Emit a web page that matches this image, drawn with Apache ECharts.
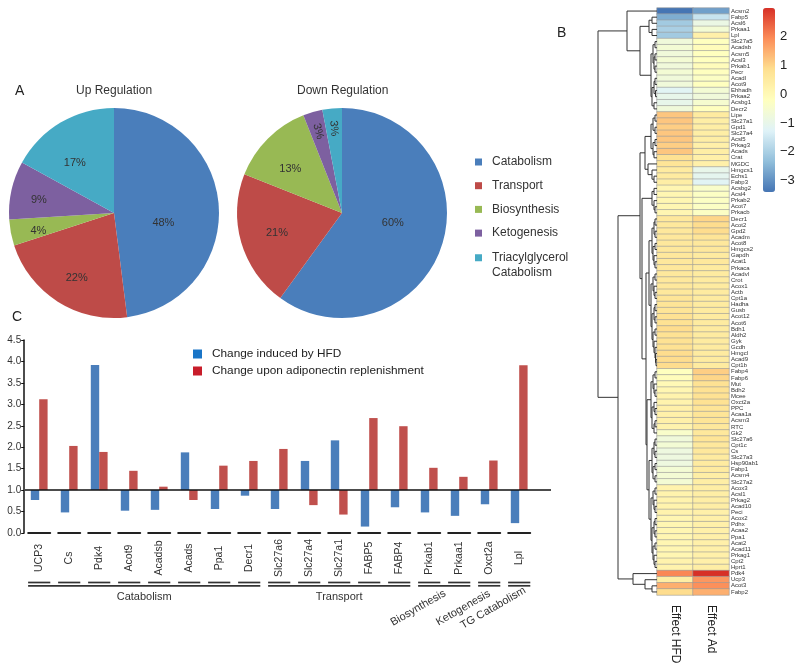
<!DOCTYPE html>
<html><head><meta charset="utf-8">
<script src="https://cdn.jsdelivr.net/npm/echarts@6/dist/echarts.min.js"></script>
<style>html,body{margin:0;padding:0;background:#fff}#c{width:800px;height:670px}</style>
</head><body><div id="c"></div>
<script>
// ---------- DATA ----------
const pieCategories = ['Catabolism','Transport','Biosynthesis','Ketogenesis','Triacylglycerol\nCatabolism'];
const upRegulation = [48, 22, 4, 9, 17];
const downRegulation = [60, 21, 13, 3, 3];

const barGenes = ['UCP3','Cs','Pdk4','Acot9','Acadsb','Acads','Ppa1','Decr1','Slc27a6','Slc27a4','Slc27a1','FABP5','FABP4','Prkab1','Prkaa1','Oxct2a','Lpl'];
const changeHFD = [0.77,0.48,3.92,0.52,0.54,1.88,0.56,0.87,0.56,1.68,2.16,0.15,0.60,0.48,0.40,0.67,0.23];
const changeAd  = [3.12,2.03,1.89,1.45,1.08,0.77,1.57,1.68,1.96,0.65,0.43,2.68,2.49,1.52,1.31,1.69,3.91];
const barBaseline = 1.0;
const barAxisTicks = [0,0.5,1,1.5,2,2.5,3,3.5,4,4.5];
const groupNames = ['Catabolism','Transport','Biosynthesis','Ketogenesis','TG Catabolism'];
const groupFirst = [0, 8, 13, 15, 16];
const groupLast  = [7, 12, 14, 15, 16];

const heatColumns = ['Effect HFD','Effect Ad'];
const heatGenes = ['Acsm2','Fabp5','Acsl6','Prkaa1','Lpl','Slc27a5','Acadsb','Acsm5','Acsl3','Prkab1','Pecr','Acadl','Acot9','Ehhadh','Prkaa2','Acsbg1','Decr2',
 'Lipe','Slc27a1','Gpd1','Slc27a4','Acsl5','Prkag3','Acads','Crat','MGDC','Hmgcs1','Echs1','Fabp3','Acsbg2','Acsl4','Prkab2','Acot7','Prkacb',
 'Decr1','Acot2','Gpd2','Acadm','Acot8','Hmgcs2','Gapdh','Acat1','Prkaca','Acadvl','Crot','Acox1','Actb','Cpt1a','Hadha','Gusb','Acot12','Acot6','Bdh1','Aldh2','Gyk','Gcdh','Hmgcl','Acad9','Cpt1b',
 'Fabp4','Fabp6','Mut','Bdh2','Mcee','Oxct2a','PPC','Acaa1a','Acsm3','RTC','Gk2','Slc27a6','Cpt1c','Cs','Slc27a3','Hsp90ab1','Fabp1','Acsm4','Slc27a2',
 'Acox3','Acsl1','Prkag2','Acad10','Peci','Acox2','Pdhx','Acaa2','Ppa1','Acat2','Acad11','Prkag1','Cpt2','Hprt1','Pdk4','Ucp3','Acot3','Fabp2'];
const effectHFD = [-3.4,-2.6,-2.1,-2.0,-2.1,-0.7,-0.6,-0.7,-0.6,-0.7,-0.6,-0.7,-0.7,-1.2,-1.0,-1.0,-0.7,
 1.2,1.2,1.1,1.2,1.2,1.1,1.2,0.8,0.7,0.5,0.5,0.4,0.1,0.1,0.1,0.1,0.1,
 0.6,0.6,0.6,0.6,0.6,0.6,0.6,0.6,0.6,0.6,0.6,0.6,0.6,0.7,0.7,0.7,0.8,0.8,0.9,0.8,0.8,0.8,0.9,0.9,0.9,
 -0.2,-0.1,0.0,0.1,0.2,0.2,0.3,0.3,0.3,0.2,-0.4,-0.7,-0.6,-0.8,-0.8,-0.8,-0.6,-0.6,-0.6,
 0.2,0.2,0.2,0.2,0.2,0.1,0.1,0.1,0.1,0.1,0.1,0.1,0.2,0.2,2.0,0.4,1.5,0.9];
const effectAd = [-2.8,-1.6,-0.9,-0.6,0.3,-0.2,-0.1,-0.2,-0.2,-0.1,-0.2,-0.3,-0.2,-0.6,-0.7,-0.5,-0.2,
 0.5,0.4,0.4,0.4,0.4,0.3,0.4,0.3,0.3,-1.0,-1.1,-1.2,-0.4,-0.3,-0.3,-0.3,-0.3,
 1.0,0.9,0.9,0.7,0.6,0.6,0.5,0.6,0.5,0.5,0.5,0.5,0.5,0.5,0.5,0.5,0.5,0.5,0.5,0.5,0.5,0.5,0.5,0.5,0.5,
 1.1,1.0,0.8,0.8,0.8,0.8,0.7,0.7,0.7,0.6,0.6,0.7,0.6,0.6,0.5,0.5,0.5,0.4,0.4,
 0.4,0.4,0.4,0.4,0.3,0.3,0.3,0.3,0.3,0.3,0.3,0.3,0.3,0.4,3.0,1.8,1.9,1.5];
const colorMin = -3.4, colorMax = 3.0;
const colorbarTicks = [-3,-2,-1,0,1,2];
// row dendrogram: [height, left, right], leaves are row indices
const dendrogram =
[59,
  [30, 0,
    [17,
      [8, [5, 1, 2], [5, 3, 4]],
      [6,
        [4, [2, 5, 6], [3, [2, 7, 8], [2, 9, 10]]],
        [5, [3, [2, 11, 12], [1.5, 13, 14]], [3, 15, 16]]
      ]
    ]
  ],
  [39,
    [17,
      [12,
        [6, [4, [2, 17, 18], [2, 19, 20]], [4, [2, 21, 22], [3, 23, 24]]],
        [9, 25, [5, 26, [3, 27, 28]]]
      ],
      [15,
        [5, [3, 29, 30], [3, 31, [2, 32, 33]]],
        [11,
          [8,
            [5, [3, [2, 34, 35], [2, 36, 37]], [4, [2, 38, 39], [3, 40, [2, 41, 42]]]],
            [6,
              [4, [2, 43, 44], [3, 45, [2, 46, 47]]],
              [5, [3, [2, 48, 49], [2, 50, 51]], [4, [2, 52, 53], [3, 54, [2, 55, [1.5, 56, [1, 57, 58]]]]]]
            ]
          ],
          [10,
            [6, [4, [2, 59, 60], [3, 61, [2, 62, 63]]], [5, [3, 64, [2, 65, 66]], [3, [2, 67, 68], 69]]],
            [8,
              [5, [3, [2, 70, 71], [2, 72, 73]], [4, [2, 74, 75], [2, 76, 77]]],
              [6, [4, [2, 78, 79], [3, 80, [2, 81, 82]]], [5, [3, [2, 83, 84], [2, 85, 86]], [4, [2, 87, 88], [3, 89, [2, 90, 91]]]]]
            ]
          ]
        ]
      ]
    ],
    [24, 92, [12, 93, [5, 94, 95]]]
  ]
];

// ---------- STYLE ----------
const F = 'Liberation Sans, Arial, Helvetica, sans-serif';
const pieColors = ['#4a7ebb','#be4b48','#98b954','#7d60a0','#46aac5'];
const heatPalette = ['#4575B4','#91BFDB','#E0F3F8','#FFFFBF','#FEE090','#FC8D59','#D73027'];

// ---------- BUILD ----------
function shifted(pad) { // nudge a pie label using rich-text padding
  return { formatter: '{p|{c}%}', rich: { p: { padding: pad, fontSize: 11, color: '#333', fontFamily: F } } };
}
function pieData(vals, labelOpts) {
  return vals.map((v, i) => ({
    name: pieCategories[i], value: v,
    itemStyle: { color: pieColors[i] },
    label: labelOpts[i] ? Object.assign({ show: true }, labelOpts[i]) : { show: false }
  }));
}
function visiblePie(center, vals, labelOpts) {
  return { type: 'pie', center, radius: [0, 105], startAngle: 90, clockwise: true, z: 2,
    itemStyle: { borderWidth: 0 }, emphasis: { disabled: true },
    label: { position: 'inside', formatter: '{c}%', color: '#333', fontSize: 11, fontFamily: F },
    labelLine: { show: false }, data: pieData(vals, labelOpts) };
}
function labelPie(center, vals, labelRadius, labelOpts) {
  const d = pieData(vals, labelOpts);
  d.forEach(it => it.itemStyle = { color: 'rgba(0,0,0,0)', borderWidth: 0 });
  return { type: 'pie', center, radius: [0, labelRadius * 2], startAngle: 90, clockwise: true, z: 5,
    silent: true, emphasis: { disabled: true }, legendHoverLink: false,
    label: { position: 'inside', formatter: '{c}%', color: '#333', fontSize: 11, fontFamily: F },
    labelLine: { show: false }, data: d };
}

function barSeries(name, vals, side, color) {
  return {
    type: 'custom', name, xAxisIndex: 0, yAxisIndex: 0, z: 2,
    itemStyle: { color },
    encode: { x: 0, y: 1 },
    data: vals.map((v, i) => [i, v]),
    renderItem(params, api) {
      const i = api.value(0), v = api.value(1);
      const b = api.coord([i, barBaseline]);
      const t = api.coord([i, v]);
      const w = api.size([1, 0])[0] * 0.28;
      return { type: 'rect',
        shape: { x: side < 0 ? b[0] - w : b[0], y: Math.min(b[1], t[1]), width: w, height: Math.abs(t[1] - b[1]) },
        style: { fill: api.visual('color') } };
    }
  };
}

const tableSeries = {
  type: 'custom', name: 'groups', xAxisIndex: 0, yAxisIndex: 0, clip: false, silent: true, z: 3,
  encode: { x: [0, 1] },
  data: groupNames.map((g, k) => [groupFirst[k], groupLast[k], k]),
  renderItem(params, api) {
    const s = api.value(0), e = api.value(1), k = api.value(2);
    const half = api.size([1, 0])[0] * 0.37;
    const p0 = api.coord([s, 0]), p1 = api.coord([e, 0]);
    const y0 = p0[1];
    const ch = [];
    for (let i = s; i <= e; i++) {
      const c = api.coord([i, 0])[0];
      ch.push({ type: 'line', shape: { x1: c - half, y1: y0 + 49.5, x2: c + half, y2: y0 + 49.5 }, style: { stroke: '#333', lineWidth: 1.7 } });
    }
    ch.push({ type: 'line', shape: { x1: p0[0] - half, y1: y0 + 52.8, x2: p1[0] + half, y2: y0 + 52.8 }, style: { stroke: '#333', lineWidth: 1.7 } });
    const mid = (p0[0] + p1[0]) / 2;
    const tilted = (e - s) < 2;
    ch.push({ type: 'text', x: tilted ? mid - 26 : mid, y: tilted ? y0 + 75 : y0 + 58, rotation: tilted ? Math.PI / 6 : 0,
      style: { text: groupNames[k], fill: '#333', font: '11px ' + F, align: 'center', verticalAlign: tilted ? 'middle' : 'top' } });
    return { type: 'group', children: ch };
  }
};

const heatData = [];
heatGenes.forEach((g, i) => { heatData.push([0, i, effectHFD[i]]); heatData.push([1, i, effectAd[i]]); });

const segs = [];
function walk(n) {
  if (typeof n === 'number') return { h: 0, y: n + 0.5 };
  const a = walk(n[1]), b = walk(n[2]), h = n[0];
  segs.push([a.h, a.y, h, a.y]); segs.push([b.h, b.y, h, b.y]); segs.push([h, a.y, h, b.y]);
  return { h, y: (a.y + b.y) / 2 };
}
walk(dendrogram);

const hidden = { show: false };
const option = {
  animation: false,
  textStyle: { fontFamily: F },
  title: [
    { text: 'A', left: 15, top: 84, padding: 0, textStyle: { fontSize: 14, fontWeight: 'normal', color: '#222', fontFamily: F } },
    { text: 'Up Regulation', left: 76, top: 85, padding: 0, textStyle: { fontSize: 12, fontWeight: 'normal', color: '#333', fontFamily: F } },
    { text: 'Down Regulation', left: 297, top: 85, padding: 0, textStyle: { fontSize: 12, fontWeight: 'normal', color: '#333', fontFamily: F } },
    { text: 'B', left: 557, top: 26, padding: 0, textStyle: { fontSize: 14, fontWeight: 'normal', color: '#222', fontFamily: F } },
    { text: 'C', left: 12, top: 310, padding: 0, textStyle: { fontSize: 14, fontWeight: 'normal', color: '#222', fontFamily: F } }
  ],
  legend: [
    { data: pieCategories.slice(0, 4), orient: 'vertical', left: 475, top: 154.5, padding: 0,
      itemWidth: 7, itemHeight: 7, itemGap: 8.7, icon: 'rect', selectedMode: false,
      textStyle: { fontSize: 12, color: '#333', lineHeight: 15, padding: [0, 0, 0, 5], fontFamily: F } },
    { data: [{ name: pieCategories[4], icon: 'path://M0,0h7v7h-7z M0,21.5h0.01v0.01h-0.01z' }], orient: 'vertical', left: 475, top: 250, padding: 0,
      itemWidth: 7, itemHeight: 21.5, selectedMode: false,
      textStyle: { fontSize: 12, color: '#333', lineHeight: 15, padding: [0, 0, 0, 5], fontFamily: F } },
    { data: [{ name: 'Change induced by HFD', itemStyle: { color: '#1a75c7' } },
             { name: 'Change upon adiponectin replenishment', itemStyle: { color: '#c81d2a' } }],
      orient: 'vertical', left: 193, top: 347, padding: 0, itemWidth: 9, itemHeight: 9, itemGap: 3, icon: 'rect', selectedMode: false,
      textStyle: { fontSize: 11.8, color: '#222', lineHeight: 14, padding: [0, 0, 0, 5], fontFamily: F } }
  ],
  grid: [
    { left: 24.2, top: 340, width: 510, height: 193, show: false },
    { left: 25, top: 340, width: 526, height: 193, show: false },
    { left: 657, top: 8, width: 72, height: 587, show: false },
    { left: 763, top: 8, width: 12, height: 184, show: false },
    { left: 597, top: 8, width: 60, height: 587, show: false }
  ],
  xAxis: [
    { type: 'category', gridIndex: 0, data: barGenes, boundaryGap: true,
      axisLine: { show: true, onZero: false, lineStyle: { color: '#222', width: 2, type: [22, 8], dashOffset: 26 } },
      axisTick: hidden,
      axisLabel: { rotate: 90, margin: 25, align: 'center', verticalAlign: 'middle', fontSize: 10.5, color: '#333', interval: 0, fontFamily: F } },
    { type: 'value', gridIndex: 1, min: 0, max: 1, show: false },
    { type: 'category', gridIndex: 2, data: heatColumns, axisLine: hidden, axisTick: hidden,
      axisLabel: { rotate: -90, margin: 10, fontSize: 12, color: '#222', fontFamily: F } },
    { type: 'value', gridIndex: 3, min: 0, max: 1, show: false },
    { type: 'value', gridIndex: 4, min: 0, max: 60, inverse: true, show: false }
  ],
  yAxis: [
    { type: 'value', gridIndex: 0, min: barAxisTicks[0], max: barAxisTicks[barAxisTicks.length - 1], interval: 0.5,
      axisLine: { show: true, lineStyle: { color: '#111', width: 1.5 } },
      axisTick: { show: true, length: 3, lineStyle: { color: '#111' } },
      splitLine: hidden,
      axisLabel: { fontSize: 10, color: '#333', margin: 3, formatter: v => v.toFixed(1), fontFamily: F } },
    { type: 'value', gridIndex: 1, min: 0, max: 4.5, show: false },
    { type: 'category', gridIndex: 2, data: heatGenes, inverse: true, position: 'right',
      axisLine: hidden, axisTick: hidden,
      axisLabel: { fontSize: 6, color: '#333', margin: 2, interval: 0, fontFamily: F } },
    { type: 'value', gridIndex: 3, min: colorMin, max: colorMax, position: 'right',
      axisLine: hidden, axisTick: hidden, splitLine: hidden,
      axisLabel: { customValues: colorbarTicks, margin: 5, fontSize: 13, color: '#222', fontFamily: F,
        formatter: v => (v < 0 ? '\u2212' + Math.abs(v) : String(v)) } },
    { type: 'value', gridIndex: 4, min: 0, max: heatGenes.length, inverse: true, show: false }
  ],
  visualMap: [{
    type: 'continuous', seriesIndex: 9, min: colorMin, max: colorMax, calculable: false,
    orient: 'vertical', left: 763, top: 8, itemWidth: 12, itemHeight: 184, padding: 0,
    text: null, showLabel: false, hoverLink: false,
    inRange: { color: heatPalette }
  }],
  series: [
    visiblePie([114, 213], upRegulation, { 0: shifted([26, 12, 0, 0]) }),
    visiblePie([342, 213], downRegulation, { 0: shifted([0, 4, 14, 0]) }),
    labelPie([114, 213], upRegulation, 74, { 1: shifted([0, 0, 0, 8]), 2: shifted([8, 0, 0, 0]), 3: shifted([8, 0, 0, 0]), 4: shifted([32, 0, 0, 0]) }),
    labelPie([342, 213], downRegulation, 70, { 1: shifted([0, 0, 0, 10]), 2: shifted([16, 0, 0, 0]) }),
    labelPie([342, 213], downRegulation, 82, { 3: { rotate: -74 }, 4: { rotate: -85 } }),
    barSeries('Change induced by HFD', changeHFD, -1, '#4a7ebb'),
    barSeries('Change upon adiponectin replenishment', changeAd, 1, '#c0504d'),
    { type: 'line', xAxisIndex: 1, yAxisIndex: 1, data: [[0, barBaseline], [1, barBaseline]], symbol: 'none', silent: true, z: 4,
      lineStyle: { color: '#111', width: 1.5 } },
    tableSeries,
    { type: 'heatmap', xAxisIndex: 2, yAxisIndex: 2, data: heatData,
      itemStyle: { borderColor: '#9a9a9a', borderWidth: 0.6 }, emphasis: { disabled: true } },
    { type: 'custom', xAxisIndex: 4, yAxisIndex: 4, data: segs, encode: { x: [0, 2], y: [1, 3] }, silent: true,
      renderItem(params, api) {
        const a = api.coord([api.value(0), api.value(1)]);
        const b = api.coord([api.value(2), api.value(3)]);
        return { type: 'line', shape: { x1: a[0], y1: a[1], x2: b[0], y2: b[1] }, style: { stroke: '#333', lineWidth: 1 } };
      } }
  ]
};
const chart = echarts.init(document.getElementById('c'), null, { renderer: 'canvas' });
chart.setOption(option);
</script></body></html>
